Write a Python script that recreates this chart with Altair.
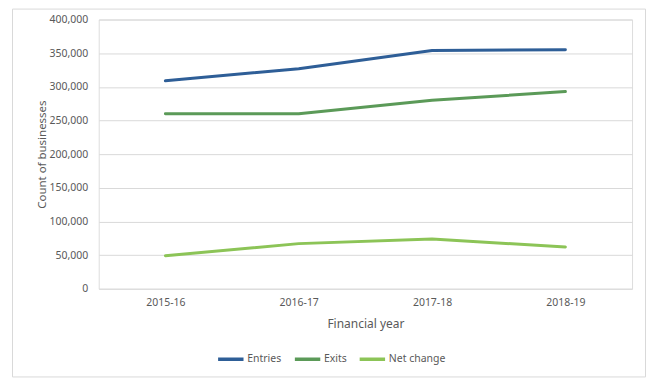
import altair as alt
import pandas as pd

years = ["2015-16", "2016-17", "2017-18", "2018-19"]
entries = [309000, 327000, 354000, 355000]
exits = [260000, 260000, 280000, 293000]
net_change = [49000, 67000, 74000, 62000]
series = ["Entries", "Exits", "Net change"]
colors = ["#2E5E97", "#5B9A58", "#8CC457"]

rows = []
for s, vals in zip(series, [entries, exits, net_change]):
    for y, v in zip(years, vals):
        rows.append({"year": y, "series": s, "value": v})
df = pd.DataFrame(rows)

FONT = "Noto Sans"
GREY = "#595959"

lines = alt.Chart(df).mark_line(strokeWidth=3, strokeCap="round", strokeJoin="round").encode(
    x=alt.X("year:N", sort=years, title="Financial year",
            scale=alt.Scale(paddingInner=0, paddingOuter=0.5),
            axis=alt.Axis(labelAngle=0, domain=False, ticks=False, grid=False,
                          labelPadding=9, titlePadding=10, labelFontSize=10.5, titleFontSize=12,
                          labelColor=GREY, titleColor=GREY, labelFont=FONT, titleFont=FONT,
                          titleFontWeight="normal")),
    y=alt.Y("value:Q", title="Count of businesses",
            scale=alt.Scale(domain=[0, 400000], nice=False),
            axis=alt.Axis(values=[0, 50000, 100000, 150000, 200000, 250000, 300000, 350000, 400000],
                          format=",d", domain=False, ticks=False, gridColor="#D9D9D9",
                          labelPadding=11, titlePadding=2, labelFontSize=10.5, titleFontSize=11.5,
                          labelColor=GREY, titleColor=GREY, labelFont=FONT, titleFont=FONT,
                          titleFontWeight="normal")),
    color=alt.Color("series:N", sort=series,
                    scale=alt.Scale(domain=series, range=colors),
                    legend=alt.Legend(title=None, orient="none", direction="horizontal",
                                      legendX=118, legendY=326,
                                      symbolType="stroke", symbolStrokeWidth=3.5, symbolSize=650,
                                      labelOffset=2, columnPadding=5,
                                      labelFont=FONT, labelFontSize=10.5, labelColor=GREY)),
)

frame = alt.Chart(pd.DataFrame({"a": [0]})).mark_rect(fill=None, stroke="#D9D9D9", strokeWidth=1).encode(
    x=alt.value(-86.5), x2=alt.value(548.5), y=alt.value(-10.5), y2=alt.value(358.5)
)

chart = alt.layer(frame, lines).properties(
    width=535, height=270,
    autosize=alt.AutoSizeParams(type="none"),
    padding={"left": 91, "top": 11, "right": 20, "bottom": 95},
).configure_view(stroke=None).configure(background="white")

chart.save("out.html", embed_options={"renderer": "svg", "actions": False})
